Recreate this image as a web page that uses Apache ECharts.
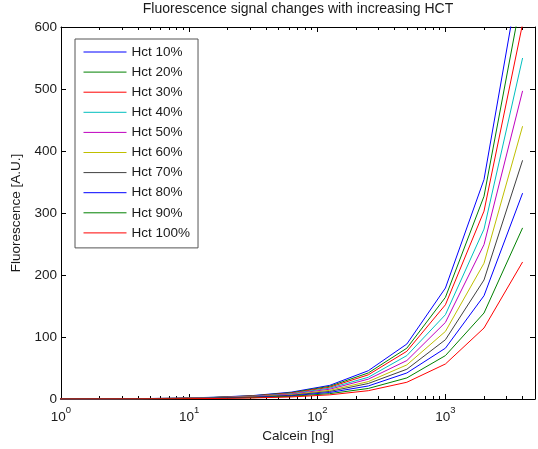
<!DOCTYPE html>
<html>
<head>
<meta charset="utf-8">
<script src="https://cdn.jsdelivr.net/npm/echarts@6/dist/echarts.min.js"></script>
<style>
html,body{margin:0;padding:0;background:#fff;}
#chart{width:538px;height:449px;}
</style>
</head>
<body>
<div id="chart"></div>
<script>
// Calcein amounts [ng] (two-fold dilution series)
const calcein = [0.9765625, 1.953125, 3.90625, 7.8125, 15.625, 31.25, 62.5, 125, 250, 500, 1000, 2000, 4000];

const seriesNames = ['Hct 10%', 'Hct 20%', 'Hct 30%', 'Hct 40%', 'Hct 50%', 'Hct 60%', 'Hct 70%', 'Hct 80%', 'Hct 90%', 'Hct 100%'];

const hct10  = [0, 0.2, 0.6, 1.3, 2.8, 5.5, 11.0, 22.0, 45.6, 88.7, 179.0, 354.0, 710.0];
const hct20  = [0, 0.2, 0.5, 1.2, 2.6, 5.1, 10.2, 20.5, 42.0, 82.0, 164.0, 327.0, 657.0];
const hct30  = [0, 0.2, 0.5, 1.1, 2.4, 4.8, 9.5, 19.0, 39.0, 77.0, 152.0, 303.0, 605.0];
const hct40  = [0, 0.2, 0.4, 1.0, 2.2, 4.3, 8.6, 17.5, 35.0, 70.0, 136.0, 274.0, 550.0];
const hct50  = [0, 0.1, 0.4, 0.9, 2.0, 3.9, 7.8, 15.8, 32.0, 62.0, 123.5, 249.0, 497.0];
const hct60  = [0, 0.1, 0.3, 0.8, 1.7, 3.4, 6.8, 14.0, 28.0, 55.0, 109.0, 219.0, 440.0];
const hct70  = [0, 0.1, 0.3, 0.7, 1.5, 3.0, 6.0, 12.2, 25.0, 48.0, 95.6, 192.0, 385.0];
const hct80  = [0, 0.1, 0.3, 0.6, 1.3, 2.6, 5.2, 10.5, 21.0, 42.0, 82.0, 166.6, 332.0];
const hct90  = [0, 0.1, 0.2, 0.5, 1.1, 2.1, 4.3, 8.6, 17.0, 34.0, 70.0, 138.7, 276.0];
const hct100 = [0, 0.1, 0.2, 0.4, 0.8, 1.7, 3.3, 6.7, 13.4, 27.0, 56.5, 114.5, 221.0];

const seriesValues = [hct10, hct20, hct30, hct40, hct50, hct60, hct70, hct80, hct90, hct100];

const seriesColors = ['#0000ff', '#008000', '#ff0000', '#00bfbf', '#bf00bf', '#bfbf00', '#404040', '#0000ff', '#008000', '#ff0000'];

const xMajorTicks = [1, 10, 100, 1000];
const xMinorTicks = [2,3,4,5,6,7,8,9, 20,30,40,50,60,70,80,90, 200,300,400,500,600,700,800,900, 2000,3000,4000];
const yTicks = [0, 100, 200, 300, 400, 500, 600];

const FONT = 'Arial, "Liberation Sans", Helvetica, sans-serif';
const TXT = '#1a1a1a';

const chart = echarts.init(document.getElementById('chart'), null, {renderer: 'canvas'});

function logAxis(pos, ticks, len, showLine, showLabel) {
  return {
    type: 'log', logBase: 10, min: 1, max: 5000, position: pos,
    axisLine: {show: showLine, lineStyle: {color: '#000', width: 1}},
    axisTick: {show: true, inside: true, length: len, customValues: ticks, lineStyle: {color: '#000', width: 1}},
    axisLabel: showLabel ? {
      show: true, customValues: ticks, margin: 6, color: TXT, fontFamily: FONT,
      formatter: function (v) { return '{b|10}{s|' + Math.round(Math.log10(v)) + '}'; },
      rich: {
        b: {fontSize: 13.5, fontFamily: FONT, color: TXT, verticalAlign: 'bottom', lineHeight: 19},
        s: {fontSize: 9.5, fontFamily: FONT, color: TXT, verticalAlign: 'top', lineHeight: 10}
      }
    } : {show: false},
    splitLine: {show: false}, minorTick: {show: false}
  };
}

const xAxes = [
  Object.assign(logAxis('bottom', xMajorTicks, 5, true, true), {
    name: 'Calcein [ng]', nameLocation: 'middle', nameGap: 30,
    nameTextStyle: {fontSize: 13.5, fontFamily: FONT, color: TXT}
  }),
  logAxis('bottom', xMinorTicks, 3, false, false),
  logAxis('top', xMajorTicks, 5, true, false),
  logAxis('top', xMinorTicks, 3, false, false)
];

const yAxes = [
  {
    type: 'value', min: 0, max: 600, interval: 100, position: 'left',
    name: 'Fluorescence [A.U.]', nameLocation: 'middle', nameGap: 32,
    nameTextStyle: {fontSize: 13.5, fontFamily: FONT, color: TXT},
    axisLine: {show: true, lineStyle: {color: '#000', width: 1}},
    axisTick: {show: true, inside: true, length: 5, customValues: yTicks, lineStyle: {color: '#000'}},
    axisLabel: {show: true, margin: 4, fontSize: 13.5, fontFamily: FONT, color: TXT, customValues: yTicks},
    splitLine: {show: false}
  },
  {
    type: 'value', min: 0, max: 600, interval: 100, position: 'right',
    axisLine: {show: true, lineStyle: {color: '#000', width: 1}},
    axisTick: {show: true, inside: true, length: 5, lineStyle: {color: '#000'}},
    axisLabel: {show: false},
    splitLine: {show: false}
  }
];

const series = seriesNames.map(function (name, i) {
  return {
    name: name,
    type: 'line',
    xAxisIndex: 0, yAxisIndex: 0,
    data: calcein.map(function (x, j) { return [x, seriesValues[i][j]]; }),
    symbol: 'none',
    clip: true,
    animation: false,
    lineStyle: {width: 1, color: seriesColors[i]},
    itemStyle: {color: seriesColors[i]}
  };
});

chart.setOption({
  animation: false,
  backgroundColor: '#fff',
  title: {
    text: 'Fluorescence signal changes with increasing HCT',
    left: 298, textAlign: 'center', top: 2,
    padding: 0,
    textStyle: {fontSize: 14, fontWeight: 'normal', fontFamily: FONT, color: TXT}
  },
  grid: {left: 61, right: 3, top: 27, bottom: 50, containLabel: false},
  legend: {
    show: true, orient: 'vertical', left: 75, top: 39,
    data: seriesNames,
    itemWidth: 43, itemHeight: 14, itemGap: 6.1,
    padding: [6, 8, 8, 8],
    backgroundColor: '#fff', borderColor: '#555', borderWidth: 1,
    itemStyle: {opacity: 0, borderWidth: 0},
    lineStyle: {width: 1, opacity: 1},
    textStyle: {fontSize: 13.5, fontFamily: FONT, color: TXT, lineHeight: 14},
    selectedMode: false
  },
  xAxis: xAxes,
  yAxis: yAxes,
  series: series
});
</script>
</body>
</html>
